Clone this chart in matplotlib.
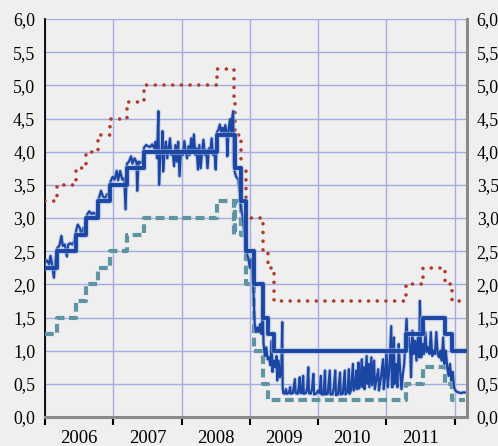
import matplotlib
matplotlib.use("Agg")
import matplotlib.pyplot as plt
import matplotlib.patheffects as pe
from matplotlib.ticker import FixedLocator, FuncFormatter

# ---- policy rates (step series, decimal years) ----
mro_t = [2006.00, 2006.18, 2006.455, 2006.605, 2006.78, 2006.95, 2007.20, 2007.45,
         2008.52, 2008.78, 2008.865, 2008.94, 2009.055, 2009.19, 2009.265, 2009.36,
         2011.28, 2011.53, 2011.86, 2011.955, 2012.15]
mro_v = [2.25, 2.50, 2.75, 3.00, 3.25, 3.50, 3.75, 4.00,
         4.25, 3.75, 3.25, 2.50, 2.00, 1.50, 1.25, 1.00,
         1.25, 1.50, 1.25, 1.00, 1.00]

dep_t = [2006.00, 2006.18, 2006.455, 2006.605, 2006.78, 2006.95, 2007.20, 2007.45,
         2008.52, 2008.77, 2008.785, 2008.865, 2008.94, 2009.055, 2009.19, 2009.265,
         2011.28, 2011.53, 2011.86, 2011.955, 2012.15]
dep_v = [1.25, 1.50, 1.75, 2.00, 2.25, 2.50, 2.75, 3.00,
         3.25, 2.75, 3.25, 2.75, 2.00, 1.00, 0.50, 0.25,
         0.50, 0.75, 0.50, 0.25, 0.25]

mlf_t = [2006.00, 2006.18, 2006.455, 2006.605, 2006.78, 2006.95, 2007.20, 2007.45,
         2008.52, 2008.77, 2008.785, 2008.865, 2008.94, 2009.055, 2009.19, 2009.265,
         2009.36, 2011.28, 2011.53, 2011.86, 2011.955, 2012.15]
mlf_v = [3.25, 3.50, 3.75, 4.00, 4.25, 4.50, 4.75, 5.00,
         5.25, 4.75, 4.25, 3.75, 3.00, 3.00, 2.50, 2.25,
         1.75, 2.00, 2.25, 2.00, 1.75, 1.75]

# ---- overnight rate ----
eonia_t = [2006.00, 2006.03, 2006.06, 2006.08, 2006.10, 2006.13, 2006.15, 2006.18,
           2006.21, 2006.24, 2006.26, 2006.29, 2006.32, 2006.34, 2006.37, 2006.40,
           2006.43, 2006.46, 2006.48, 2006.51, 2006.54, 2006.56, 2006.60, 2006.62,
           2006.65, 2006.68, 2006.71, 2006.74, 2006.77, 2006.79, 2006.82, 2006.85,
           2006.88, 2006.91, 2006.94, 2006.96, 2006.99, 2007.02, 2007.05, 2007.07,
           2007.10, 2007.13, 2007.16, 2007.18, 2007.20, 2007.23, 2007.26, 2007.28,
           2007.31, 2007.34, 2007.35, 2007.37, 2007.40, 2007.43, 2007.45, 2007.48,
           2007.51, 2007.54, 2007.57, 2007.60, 2007.62, 2007.64, 2007.66, 2007.67,
           2007.69, 2007.71, 2007.72, 2007.73, 2007.75, 2007.77, 2007.79, 2007.81,
           2007.83, 2007.85, 2007.87, 2007.89, 2007.91, 2007.93, 2007.95, 2007.97,
           2007.99, 2008.02, 2008.04, 2008.06, 2008.08, 2008.10, 2008.12, 2008.14,
           2008.16, 2008.18, 2008.20, 2008.22, 2008.24, 2008.26, 2008.28, 2008.30,
           2008.32, 2008.34, 2008.36, 2008.38, 2008.40, 2008.42, 2008.44, 2008.46,
           2008.48, 2008.50, 2008.52, 2008.54, 2008.56, 2008.58, 2008.60, 2008.62,
           2008.64, 2008.66, 2008.67, 2008.69, 2008.71, 2008.73, 2008.74, 2008.755,
           2008.765, 2008.78, 2008.80, 2008.83, 2008.855, 2008.87, 2008.89, 2008.91,
           2008.93, 2008.945, 2008.96, 2008.98, 2009.00, 2009.02, 2009.04, 2009.055,
           2009.07, 2009.09, 2009.11, 2009.13, 2009.15, 2009.17, 2009.19, 2009.20,
           2009.22, 2009.24, 2009.26, 2009.28, 2009.30, 2009.32, 2009.33, 2009.35,
           2009.37, 2009.39, 2009.40, 2009.42, 2009.44, 2009.46, 2009.474, 2009.48,
           2009.49, 2009.51, 2009.53, 2009.54, 2009.57, 2009.59, 2009.60, 2009.63,
           2009.66, 2009.67, 2009.70, 2009.72, 2009.73, 2009.74, 2009.76, 2009.78,
           2009.79, 2009.82, 2009.84, 2009.855, 2009.865, 2009.89, 2009.91, 2009.93,
           2009.94, 2009.97, 2010.00, 2010.02, 2010.04, 2010.05, 2010.08, 2010.10,
           2010.11, 2010.14, 2010.17, 2010.18, 2010.21, 2010.23, 2010.25, 2010.26,
           2010.29, 2010.32, 2010.33, 2010.36, 2010.39, 2010.40, 2010.43, 2010.45,
           2010.46, 2010.48, 2010.51, 2010.52, 2010.54, 2010.56, 2010.57, 2010.59,
           2010.60, 2010.62, 2010.64, 2010.65, 2010.67, 2010.68, 2010.71, 2010.72,
           2010.74, 2010.75, 2010.78, 2010.79, 2010.80, 2010.82, 2010.83, 2010.85,
           2010.88, 2010.89, 2010.92, 2010.95, 2010.96, 2010.98, 2011.00, 2011.02,
           2011.04, 2011.07, 2011.08, 2011.09, 2011.11, 2011.12, 2011.14, 2011.16,
           2011.18, 2011.20, 2011.22, 2011.24, 2011.26, 2011.295, 2011.31, 2011.33,
           2011.35, 2011.36, 2011.38, 2011.40, 2011.42, 2011.44, 2011.46, 2011.48,
           2011.49, 2011.51, 2011.53, 2011.55, 2011.57, 2011.59, 2011.61, 2011.63,
           2011.65, 2011.67, 2011.69, 2011.71, 2011.73, 2011.75, 2011.77, 2011.79,
           2011.81, 2011.83, 2011.85, 2011.87, 2011.89, 2011.91, 2011.93, 2011.95,
           2011.97, 2011.99, 2012.01, 2012.03, 2012.06, 2012.09, 2012.12, 2012.15]
eonia_v = [2.33, 2.36, 2.30, 2.43, 2.32, 2.10, 2.35, 2.55,
           2.58, 2.73, 2.58, 2.60, 2.42, 2.60, 2.62, 2.60,
           2.65, 2.83, 2.90, 2.85, 2.73, 2.85, 2.86, 3.06,
           3.10, 3.06, 3.08, 3.05, 3.10, 3.30, 3.41, 3.32,
           3.30, 3.36, 3.35, 3.55, 3.62, 3.58, 3.71, 3.57,
           3.71, 3.58, 3.60, 3.13, 3.82, 3.85, 3.93, 3.82,
           3.90, 3.84, 3.41, 3.85, 3.83, 3.86, 4.06, 4.10,
           4.08, 4.07, 4.11, 4.05, 4.15, 3.90, 4.61, 3.50,
           3.95, 4.05, 4.31, 3.70, 4.00, 4.15, 3.90, 4.05,
           4.20, 3.95, 4.00, 3.78, 4.10, 3.85, 4.15, 3.63,
           4.00, 3.95, 4.16, 4.00, 3.90, 4.08, 3.95, 4.20,
           4.00, 4.26, 3.95, 4.05, 3.73, 4.10, 3.75, 4.00,
           4.18, 3.95, 4.02, 3.75, 4.05, 3.98, 4.20, 3.95,
           4.02, 3.73, 4.30, 4.33, 4.41, 4.30, 4.36, 4.28,
           4.40, 4.27, 3.93, 4.35, 4.49, 4.25, 4.50, 4.61,
           3.80, 3.69, 3.62, 3.58, 3.35, 3.13, 3.05, 2.85,
           2.70, 2.58, 2.45, 2.38, 2.25, 2.38, 2.12, 1.83,
           1.40, 1.28, 1.35, 1.28, 1.40, 1.25, 1.63, 1.10,
           0.92, 1.05, 0.87, 0.90, 0.78, 1.15, 0.68, 0.85,
           0.75, 0.92, 0.55, 0.85, 0.60, 0.70, 1.43, 0.45,
           0.36, 0.35, 0.42, 0.35, 0.36, 0.45, 0.35, 0.36,
           0.57, 0.36, 0.35, 0.48, 0.60, 0.36, 0.36, 0.62,
           0.35, 0.36, 0.45, 0.75, 0.36, 0.35, 0.42, 0.65,
           0.34, 0.35, 0.40, 0.36, 0.62, 0.34, 0.34, 0.70,
           0.34, 0.35, 0.70, 0.34, 0.34, 0.45, 0.70, 0.33,
           0.34, 0.67, 0.34, 0.35, 0.70, 0.34, 0.38, 0.72,
           0.35, 0.40, 0.80, 0.40, 0.45, 0.70, 0.42, 0.82,
           0.43, 0.55, 0.87, 0.45, 0.75, 0.42, 0.92, 0.50,
           0.80, 0.45, 0.90, 0.48, 0.60, 0.85, 0.42, 0.55,
           0.72, 0.40, 0.60, 0.87, 0.42, 0.60, 0.98, 0.45,
           0.70, 1.37, 0.45, 0.45, 1.20, 0.50, 0.80, 0.45,
           1.10, 0.70, 0.42, 0.65, 0.80, 1.48, 1.05, 1.20,
           0.95, 0.60, 1.30, 0.95, 1.15, 0.85, 1.20, 0.90,
           1.75, 0.90, 1.10, 0.95, 1.28, 0.98, 1.05, 0.95,
           1.28, 0.92, 1.00, 0.95, 1.28, 0.95, 0.90, 1.00,
           0.85, 1.20, 0.80, 1.00, 0.75, 0.62, 0.80, 0.55,
           0.68, 0.45, 0.40, 0.38, 0.37, 0.36, 0.37, 0.37]

year_labels = ["2006", "2007", "2008", "2009", "2010", "2011"]
y_ticks = [0.0, 0.5, 1.0, 1.5, 2.0, 2.5, 3.0, 3.5, 4.0, 4.5, 5.0, 5.5, 6.0]

BG = "#efefef"
BLUE = "#1b46a3"
RED = "#b23a2c"
TEAL = "#5f95a3"
GRID = "#a3abe0"

fig = plt.figure(figsize=(4.98, 4.46), dpi=100, facecolor=BG)
ax = fig.add_axes([0.0904, 0.065, 0.8474, 0.8924], facecolor=BG)

glow_blue = [pe.Stroke(linewidth=4.6, foreground="#9fb4e2", alpha=0.55), pe.Normal()]
glow_blue_thin = [pe.Stroke(linewidth=3.0, foreground="#9fb4e2", alpha=0.55), pe.Normal()]

ax.plot(dep_t, dep_v, drawstyle="steps-post", color=TEAL, lw=3.0,
        linestyle=(0, (2.1, 1.1)), dash_capstyle="butt", zorder=3)
ax.plot(mlf_t, mlf_v, drawstyle="steps-post", color=RED, lw=2.6,
        linestyle=(0, (0.01, 2.4)), dash_capstyle="round", zorder=3)
ax.plot(eonia_t, eonia_v, color=BLUE, lw=1.6, zorder=4, path_effects=glow_blue_thin)
ax.plot(mro_t, mro_v, drawstyle="steps-post", color=BLUE, lw=2.8, zorder=5,
        path_effects=glow_blue)

ax.set_xlim(2006.0, 2012.18)
ax.set_ylim(0, 6)

ax.xaxis.set_major_locator(FixedLocator([2006, 2007, 2008, 2009, 2010, 2011, 2012]))
ax.xaxis.set_major_formatter(FuncFormatter(lambda v, p: ""))
ax.set_xticks([2006.5 + i for i in range(len(year_labels))], labels=year_labels, minor=True)
ax.tick_params(axis="x", which="major", direction="out", length=6, width=1.5, color="black")
ax.tick_params(axis="x", which="minor", length=0, pad=9, labelsize=13.5,
               labelfontfamily="Liberation Serif")

ax.set_yticks(y_ticks)
ax.set_yticklabels([f"{v:.1f}".replace(".", ",") for v in y_ticks])
ax.tick_params(axis="y", which="both", length=0, pad=7, labelsize=12.8,
               labelleft=True, labelright=True, labelfontfamily="Liberation Serif")

ax.grid(True, which="major", axis="both", color=GRID, lw=1.0, zorder=0)
ax.set_axisbelow(True)

ax.spines["top"].set_visible(False)
ax.spines["left"].set_color("black")
ax.spines["left"].set_linewidth(1.3)
ax.spines["right"].set_color("#8a8a8a")
ax.spines["right"].set_linewidth(2.2)
ax.spines["bottom"].set_color("#8a8a8a")
ax.spines["bottom"].set_linewidth(2.2)

fig.savefig("out.png", dpi=100, facecolor=BG)
